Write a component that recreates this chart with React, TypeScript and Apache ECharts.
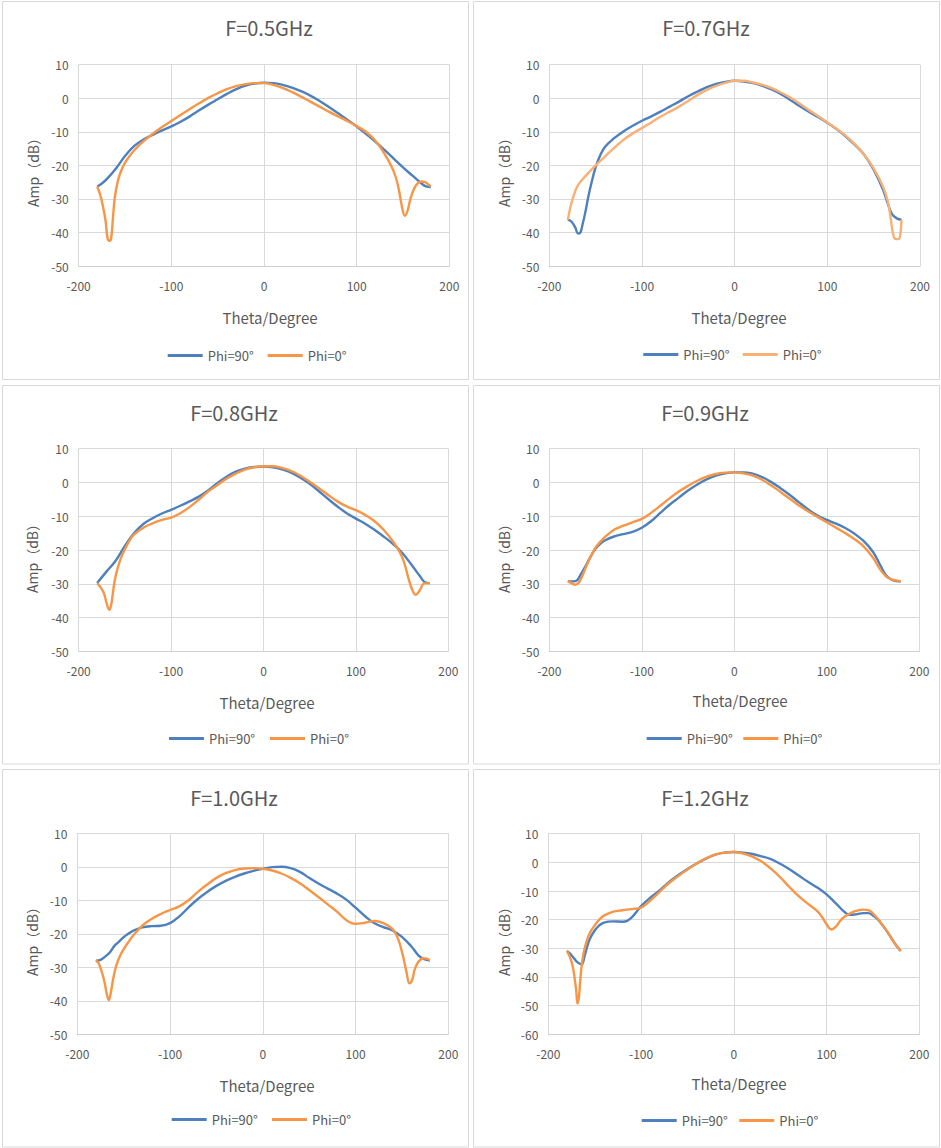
import React, { useEffect, useRef } from "react";
import * as echarts from "echarts";

const PHI90 = "Phi=90°";
const PHI0 = "Phi=0°";

const xTicks = { min: -200, max: 200, step: 100 };

// theta (deg) vs amplitude (dB), read from the six cuts
const f05Phi90 = [
  [-180, -26.3], [-175, -25.4], [-170, -24.2], [-160, -21.0], [-150, -17.2], [-140, -14.2],
  [-130, -12.3], [-120, -10.9], [-110, -9.6], [-100, -8.4], [-90, -7.0], [-80, -5.4],
  [-70, -3.6], [-60, -1.9], [-50, -0.3], [-40, 1.3], [-30, 2.7], [-20, 3.8], [-10, 4.4],
  [0, 4.6], [10, 4.5], [20, 4.0], [30, 3.2], [40, 2.1], [50, 0.8], [60, -0.8], [70, -2.6],
  [80, -4.5], [90, -6.4], [100, -8.4], [110, -10.6], [120, -12.9], [130, -15.4],
  [140, -18.0], [150, -20.6], [160, -23.0], [170, -25.4], [175, -26.3], [180, -26.5],
];
const f05Phi0 = [
  [-180, -26.3], [-177, -28.6], [-174, -32.0], [-171, -36.5], [-169, -41.5], [-167, -42.5],
  [-165, -41.8], [-163, -35.5], [-161, -29.5], [-158, -25.0], [-155, -22.2], [-150, -19.2],
  [-145, -17.2], [-140, -15.5], [-130, -12.8], [-120, -10.6], [-110, -8.6], [-100, -6.8],
  [-90, -5.0], [-80, -3.2], [-70, -1.5], [-60, 0.1], [-50, 1.5], [-40, 2.7], [-30, 3.6],
  [-20, 4.2], [-10, 4.5], [0, 4.5], [10, 4.0], [20, 3.1], [30, 1.9], [40, 0.5], [50, -1.0],
  [60, -2.5], [70, -4.0], [80, -5.4], [90, -6.8], [100, -8.3], [110, -10.0], [120, -12.6],
  [130, -16.5], [140, -21.8], [145, -26.5], [149, -32.5], [152, -35.0], [155, -33.5],
  [158, -30.0], [162, -27.0], [166, -25.3], [170, -24.8], [174, -25.0], [177, -25.6], [180, -26.3],
];

const f07Phi90 = [
  [-180, -36.2], [-176, -36.8], [-172, -38.5], [-169, -40.3], [-167, -40.2], [-164, -37.5],
  [-161, -33.8], [-158, -29.5], [-155, -25.8], [-150, -20.5], [-145, -17.0], [-140, -14.5],
  [-130, -11.9], [-120, -9.9], [-110, -8.2], [-100, -6.7], [-90, -5.4], [-80, -4.0],
  [-70, -2.5], [-60, -1.0], [-50, 0.6], [-40, 2.0], [-30, 3.3], [-20, 4.3], [-10, 4.9],
  [0, 5.2], [10, 5.0], [20, 4.5], [30, 3.7], [40, 2.6], [50, 1.2], [60, -0.5], [70, -2.3],
  [80, -4.0], [90, -5.6], [100, -7.3], [110, -9.2], [120, -11.4], [130, -14.0], [140, -16.9],
  [150, -21.3], [160, -27.2], [166, -32.0], [170, -34.6], [175, -35.8], [180, -36.2],
];
const f07Phi0 = [
  [-180, -36.2], [-177.5, -32.8], [-174, -29.3], [-169, -25.9], [-161, -23.2], [-150, -20.0],
  [-140, -17.4], [-130, -14.8], [-120, -12.4], [-110, -10.5], [-100, -8.9], [-90, -7.2],
  [-80, -5.5], [-70, -4.0], [-60, -2.5], [-50, -0.8], [-40, 1.0], [-30, 2.5], [-20, 3.7],
  [-10, 4.6], [0, 5.2], [10, 5.2], [20, 4.7], [30, 4.0], [40, 3.0], [50, 1.7], [60, 0.2],
  [70, -1.6], [80, -3.5], [90, -5.3], [100, -7.2], [110, -9.1], [120, -11.2], [130, -13.8],
  [140, -16.9], [150, -20.9], [160, -26.3], [165, -30.5], [168, -35.0], [170, -39.0],
  [172, -41.5], [174, -42.0], [177, -42.0], [179, -40.0], [180, -36.2],
];

const f08Phi90 = [
  [-180, -29.8], [-170, -26.4], [-160, -23.2], [-150, -18.8], [-140, -15.0], [-130, -12.3],
  [-120, -10.6], [-110, -9.2], [-100, -8.1], [-90, -6.9], [-80, -5.6], [-70, -4.2],
  [-60, -2.4], [-50, -0.2], [-40, 1.7], [-30, 3.2], [-20, 4.1], [-10, 4.6], [0, 4.7],
  [10, 4.5], [20, 3.9], [30, 2.9], [40, 1.4], [50, -0.4], [60, -2.6], [70, -4.9], [80, -7.1],
  [90, -9.1], [100, -10.7], [110, -12.2], [120, -14.0], [130, -16.0], [140, -18.2],
  [150, -20.8], [160, -24.3], [170, -28.0], [175, -29.6], [180, -29.8],
];
const f08Phi0 = [
  [-180, -29.8], [-177, -30.8], [-173, -32.6], [-170, -35.5], [-167, -37.7], [-165, -36.5],
  [-163, -32.8], [-161, -29.0], [-158, -25.5], [-154, -22.2], [-150, -19.8], [-145, -17.2],
  [-140, -15.4], [-130, -13.4], [-120, -12.1], [-110, -11.1], [-100, -10.4], [-90, -9.1],
  [-80, -7.3], [-70, -5.1], [-60, -2.7], [-50, -0.8], [-40, 1.1], [-30, 2.6], [-20, 3.8],
  [-10, 4.5], [0, 4.8], [10, 4.8], [20, 4.3], [30, 3.4], [40, 2.0], [50, 0.2], [60, -1.7],
  [70, -3.7], [80, -5.6], [90, -7.1], [100, -8.2], [110, -9.6], [120, -11.4], [130, -14.0],
  [140, -17.4], [147, -20.4], [152, -23.5], [157, -28.5], [161, -31.8], [165, -33.3],
  [169, -32.0], [174, -29.9], [180, -29.8],
];

const f09Phi90 = [
  [-180, -29.3], [-174, -29.3], [-170, -29.0], [-166, -27.2], [-160, -24.4], [-155, -21.8],
  [-150, -19.6], [-145, -18.2], [-140, -17.2], [-130, -16.0], [-120, -15.3], [-110, -14.6],
  [-100, -13.4], [-90, -11.5], [-80, -9.0], [-70, -6.6], [-60, -4.5], [-50, -2.4],
  [-40, -0.6], [-30, 0.9], [-20, 2.0], [-10, 2.7], [0, 3.0], [10, 3.0], [20, 2.6], [30, 1.6],
  [40, 0.1], [50, -1.7], [60, -3.7], [70, -5.9], [80, -8.0], [90, -9.8], [100, -11.1],
  [110, -12.2], [120, -13.5], [130, -15.2], [140, -17.4], [150, -20.6], [158, -24.6],
  [164, -27.5], [170, -28.8], [175, -29.2], [180, -29.3],
];
const f09Phi0 = [
  [-180, -29.3], [-176, -29.8], [-172, -30.3], [-168, -29.6], [-164, -27.5], [-160, -24.8],
  [-155, -21.8], [-150, -19.3], [-145, -17.6], [-140, -16.2], [-130, -14.0], [-120, -12.8],
  [-110, -11.8], [-100, -10.8], [-90, -9.0], [-80, -6.9], [-70, -4.7], [-60, -2.7],
  [-50, -1.0], [-40, 0.5], [-30, 1.7], [-20, 2.5], [-10, 2.9], [0, 3.0], [10, 2.7], [20, 2.0],
  [30, 0.8], [40, -0.9], [50, -2.8], [60, -4.8], [70, -6.8], [80, -8.6], [90, -10.2],
  [100, -11.8], [110, -13.4], [120, -15.0], [130, -16.8], [140, -19.0], [150, -22.3],
  [158, -25.9], [164, -27.8], [170, -28.7], [175, -29.0], [180, -29.3],
];

const f10Phi90 = [
  [-180, -28.1], [-175, -27.8], [-170, -26.8], [-165, -25.6], [-160, -23.6], [-155, -22.3],
  [-150, -21.0], [-145, -20.0], [-140, -19.1], [-130, -18.1], [-120, -17.7], [-110, -17.6],
  [-100, -16.8], [-90, -14.8], [-80, -12.1], [-70, -9.6], [-60, -7.5], [-50, -5.7],
  [-40, -4.2], [-30, -3.0], [-20, -2.0], [-10, -1.2], [0, -0.6], [10, -0.1], [20, 0.0],
  [30, -0.4], [40, -1.5], [50, -3.3], [60, -5.0], [70, -6.5], [80, -8.0], [90, -9.8],
  [100, -12.2], [110, -14.7], [120, -16.8], [130, -18.0], [140, -19.0], [150, -20.9],
  [160, -23.7], [168, -26.5], [174, -27.6], [180, -28.0],
];
const f10Phi0 = [
  [-180, -27.9], [-177, -28.8], [-174, -31.0], [-171, -34.0], [-168, -38.2], [-166, -39.8],
  [-164, -37.8], [-161, -33.0], [-158, -29.5], [-154, -26.6], [-150, -24.6], [-145, -22.5],
  [-140, -20.6], [-130, -17.6], [-120, -15.6], [-110, -14.1], [-100, -12.9], [-90, -11.8],
  [-80, -10.0], [-70, -7.5], [-60, -5.3], [-50, -3.3], [-40, -1.9], [-30, -1.0], [-20, -0.5],
  [-10, -0.4], [0, -0.6], [10, -1.1], [20, -2.0], [30, -3.3], [40, -4.9], [50, -6.9],
  [60, -9.0], [70, -11.2], [80, -13.4], [90, -15.9], [100, -17.0], [110, -16.7], [120, -16.2],
  [130, -16.8], [140, -18.6], [146, -21.6], [151, -26.5], [155, -31.5], [158, -34.8],
  [161, -33.8], [164, -30.5], [168, -28.3], [173, -27.3], [177, -27.4], [180, -27.9],
];

const f12Phi90 = [
  [-180, -30.9], [-176, -32.0], [-172, -33.6], [-168, -35.0], [-164, -35.6], [-161, -32.8],
  [-158, -29.3], [-155, -26.6], [-150, -23.8], [-145, -22.0], [-140, -21.0], [-130, -20.6],
  [-120, -20.7], [-115, -20.4], [-110, -19.2], [-105, -17.3], [-100, -15.3], [-90, -12.3],
  [-80, -9.8], [-70, -6.9], [-60, -4.5], [-50, -2.3], [-40, -0.4], [-30, 1.3], [-20, 2.7],
  [-10, 3.4], [0, 3.6], [10, 3.4], [20, 2.9], [30, 2.1], [40, 1.1], [50, -0.5], [60, -2.4],
  [70, -4.6], [80, -6.8], [90, -8.8], [100, -11.2], [110, -14.3], [120, -17.5], [125, -18.3],
  [130, -18.2], [140, -17.7], [145, -17.7], [150, -18.5], [155, -19.8], [160, -21.8],
  [165, -24.0], [170, -26.5], [175, -28.9], [180, -30.9],
];
const f12Phi0 = [
  [-180, -30.9], [-177, -32.8], [-174, -35.8], [-172, -39.5], [-170, -44.5], [-168.5, -49.3],
  [-167, -47.0], [-165.5, -41.0], [-164, -36.0], [-162, -31.8], [-159, -27.8], [-155, -24.5],
  [-150, -22.0], [-145, -20.0], [-140, -18.6], [-130, -17.2], [-120, -16.7], [-110, -16.3],
  [-100, -15.8], [-90, -13.3], [-80, -10.3], [-70, -7.3], [-60, -4.8], [-50, -2.5],
  [-40, -0.4], [-30, 1.4], [-20, 2.7], [-10, 3.4], [0, 3.6], [10, 3.1], [20, 2.0], [30, 0.3],
  [40, -2.2], [50, -5.2], [60, -8.6], [70, -11.8], [80, -14.5], [90, -17.0], [95, -19.0],
  [100, -21.6], [105, -23.4], [110, -22.4], [115, -20.3], [120, -18.8], [130, -17.1],
  [140, -16.5], [145, -16.7], [150, -17.8], [155, -19.6], [160, -21.8], [165, -24.0],
  [170, -26.5], [175, -28.9], [180, -30.9],
];

const FONT = '"Noto Sans CJK SC", "Noto Sans", sans-serif';
const TEXT = "#595959";
const GRID_LINE = "#d9d9d9";
const BLUE = "#4e80bd";
const ORANGE = "#f79646";
const ORANGE_LIGHT = "#f8b075";

// page layout of each small chart (pixels)
const panels = [
  {
    title: "F=0.5GHz", yMin: -50, phi90: f05Phi90, phi0: f05Phi0, orange: ORANGE,
    box: [2.5, 1.5, 466, 378], grid: [78.7, 64.7, 370.6, 201.3],
    titleAt: [269, 27], xNameAt: [270, 317], yNameAt: [33, 169], legendAt: [167.7, 267.7, 357],
  },
  {
    title: "F=0.7GHz", yMin: -50, phi90: f07Phi90, phi0: f07Phi0, orange: ORANGE_LIGHT,
    box: [473.5, 1.5, 466, 378], grid: [549.3, 64.7, 370.7, 201.3],
    titleAt: [706, 27], xNameAt: [739, 317], yNameAt: [504, 169], legendAt: [643.3, 742.7, 356],
  },
  {
    title: "F=0.8GHz", yMin: -50, phi90: f08Phi90, phi0: f08Phi0, orange: ORANGE,
    box: [2.5, 385.5, 466, 378.5], grid: [78.7, 448.7, 369.6, 202.6],
    titleAt: [234, 412], xNameAt: [267, 702], yNameAt: [32, 555], legendAt: [169, 270, 740],
  },
  {
    title: "F=0.9GHz", yMin: -50, phi90: f09Phi90, phi0: f09Phi0, orange: ORANGE,
    box: [473.5, 385.5, 466, 378.5], grid: [549.3, 448.7, 370, 202.6],
    titleAt: [705, 412], xNameAt: [740, 700], yNameAt: [504, 555], legendAt: [646.7, 743.3, 740],
  },
  {
    title: "F=1.0GHz", yMin: -50, phi90: f10Phi90, phi0: f10Phi0, orange: ORANGE,
    box: [2.5, 769.5, 466, 377.5], grid: [77.3, 833.3, 371, 201],
    titleAt: [234, 797], xNameAt: [267, 1085], yNameAt: [32, 938], legendAt: [171.7, 272, 1121],
  },
  {
    title: "F=1.2GHz", yMin: -60, phi90: f12Phi90, phi0: f12Phi0, orange: ORANGE,
    box: [473.5, 769.5, 466, 377.5], grid: [548.3, 833.7, 371, 200.6],
    titleAt: [705, 797], xNameAt: [739, 1083], yNameAt: [504, 938], legendAt: [641.7, 739.3, 1122],
  },
];

function text(x: number, y: number, str: string, size: number, rotation = 0) {
  return {
    type: "text",
    x,
    y,
    rotation,
    silent: true,
    style: {
      text: str,
      fill: TEXT,
      fontSize: size,
      fontFamily: FONT,
      align: "center",
      verticalAlign: "middle",
    },
  };
}

export default function App() {
  const ref = useRef<HTMLDivElement>(null);

  useEffect(() => {
    if (!ref.current) return;
    const chart = echarts.init(ref.current, undefined, { renderer: "svg" });

    const grid: any[] = [];
    const xAxis: any[] = [];
    const yAxis: any[] = [];
    const series: any[] = [];
    const legend: any[] = [];
    const graphic: any[] = [];

    panels.forEach((p, i) => {
      const [gl, gt, gw, gh] = p.grid;
      grid.push({ left: gl, top: gt, width: gw, height: gh, containLabel: false });
      xAxis.push({
        type: "value",
        gridIndex: i,
        min: xTicks.min,
        max: xTicks.max,
        interval: xTicks.step,
        axisLine: { show: true, onZero: false, lineStyle: { color: "#cfcfcf", width: 1 } },
        axisTick: { show: false },
        splitLine: { show: true, lineStyle: { color: GRID_LINE, width: 1 } },
        axisLabel: { color: TEXT, fontSize: 12, fontFamily: FONT, margin: 13 },
      });
      yAxis.push({
        type: "value",
        gridIndex: i,
        min: p.yMin,
        max: 10,
        interval: 10,
        axisLine: { show: false, onZero: false },
        axisTick: { show: false },
        splitLine: { show: true, lineStyle: { color: GRID_LINE, width: 1 } },
        axisLabel: { color: TEXT, fontSize: 12, fontFamily: FONT, margin: 10 },
      });

      const key = `p${i}|`;
      series.push({
        name: key + PHI90,
        type: "line",
        xAxisIndex: i,
        yAxisIndex: i,
        data: p.phi90,
        smooth: 0.4,
        symbol: "none",
        color: BLUE,
        lineStyle: { color: BLUE, width: 2.4 },
      });
      series.push({
        name: key + PHI0,
        type: "line",
        xAxisIndex: i,
        yAxisIndex: i,
        data: p.phi0,
        smooth: 0.4,
        symbol: "none",
        color: p.orange,
        lineStyle: { color: p.orange, width: 2.4 },
      });

      const [lx90, lx0, ly] = p.legendAt;
      [
        [key + PHI90, lx90],
        [key + PHI0, lx0],
      ].forEach(([name, lx]) => {
        legend.push({
          data: [name],
          left: lx,
          top: (ly as number) - 8,
          padding: 0,
          icon: "rect",
          itemWidth: 35,
          itemHeight: 3,
          selectedMode: false,
          formatter: (n: string) => n.split("|")[1],
          textStyle: { color: TEXT, fontSize: 13, fontFamily: FONT, padding: [0, 0, 0, 0] },
        });
      });

      const [bx, by, bw, bh] = p.box;
      graphic.push({
        type: "rect",
        silent: true,
        shape: { x: bx, y: by, width: bw, height: bh },
        style: { fill: "none", stroke: GRID_LINE, lineWidth: 1 },
      });
      graphic.push(text(p.titleAt[0], p.titleAt[1], p.title, 20));
      graphic.push(text(p.xNameAt[0], p.xNameAt[1], "Theta/Degree", 15));
      graphic.push(text(p.yNameAt[0], p.yNameAt[1], "Amp（dB）", 14, Math.PI / 2));
    });

    chart.setOption({
      animation: false,
      backgroundColor: "#ffffff",
      grid,
      xAxis,
      yAxis,
      series,
      legend,
      graphic,
    });

    return () => {
      chart.dispose();
    };
  }, []);

  return (
    <div
      ref={ref}
      style={{ position: "absolute", left: 0, top: 0, width: 941, height: 1148 }}
    />
  );
}
